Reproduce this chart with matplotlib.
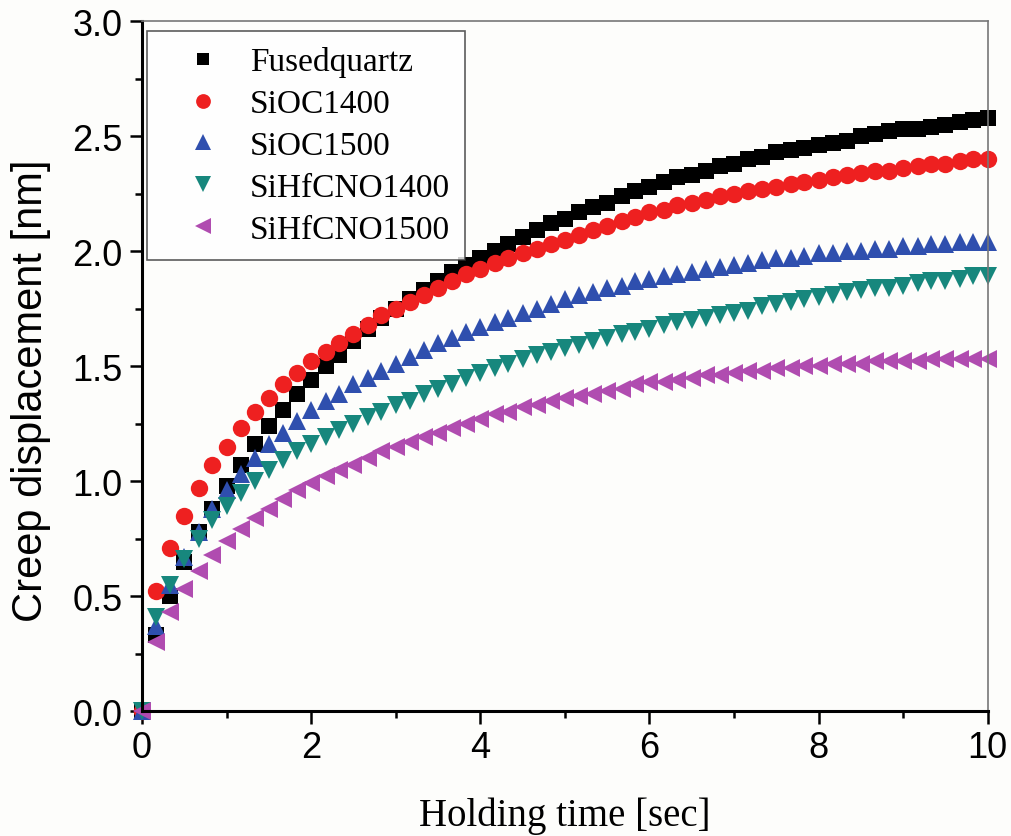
import matplotlib
matplotlib.use("Agg")
import matplotlib.pyplot as plt
from matplotlib.ticker import MultipleLocator

time_s = [0.00, 0.17, 0.33, 0.50, 0.67, 0.83, 1.00, 1.17, 1.33, 1.50, 1.67, 1.83,
          2.00, 2.17, 2.33, 2.50, 2.67, 2.83, 3.00, 3.17, 3.33, 3.50, 3.67, 3.83,
          4.00, 4.17, 4.33, 4.50, 4.67, 4.83, 5.00, 5.17, 5.33, 5.50, 5.67, 5.83,
          6.00, 6.17, 6.33, 6.50, 6.67, 6.83, 7.00, 7.17, 7.33, 7.50, 7.67, 7.83,
          8.00, 8.17, 8.33, 8.50, 8.67, 8.83, 9.00, 9.17, 9.33, 9.50, 9.67, 9.83,
          10.00]

fusedquartz = [0, 0.33, 0.50, 0.65, 0.78, 0.88, 0.98, 1.07, 1.16, 1.24, 1.31, 1.38,
               1.44, 1.50, 1.55, 1.61, 1.66, 1.71, 1.75, 1.79, 1.83, 1.87, 1.91, 1.94,
               1.97, 2.00, 2.03, 2.06, 2.09, 2.12, 2.14, 2.17, 2.19, 2.21, 2.24, 2.26,
               2.28, 2.30, 2.32, 2.33, 2.35, 2.37, 2.38, 2.40, 2.41, 2.43, 2.44, 2.45,
               2.46, 2.47, 2.48, 2.50, 2.51, 2.52, 2.53, 2.53, 2.54, 2.55, 2.56, 2.57,
               2.58]

sioc1400 = [0, 0.52, 0.71, 0.85, 0.97, 1.07, 1.15, 1.23, 1.30, 1.36, 1.42, 1.47,
            1.52, 1.56, 1.60, 1.64, 1.68, 1.72, 1.75, 1.78, 1.81, 1.84, 1.87, 1.90,
            1.92, 1.95, 1.97, 1.99, 2.01, 2.03, 2.05, 2.07, 2.09, 2.11, 2.13, 2.15,
            2.17, 2.18, 2.20, 2.21, 2.22, 2.24, 2.25, 2.26, 2.27, 2.28, 2.29, 2.30,
            2.31, 2.32, 2.33, 2.34, 2.35, 2.35, 2.36, 2.37, 2.38, 2.38, 2.39, 2.40,
            2.40]

sioc1500 = [0, 0.37, 0.55, 0.67, 0.78, 0.88, 0.96, 1.03, 1.10, 1.16, 1.21, 1.26,
            1.31, 1.35, 1.38, 1.42, 1.45, 1.48, 1.51, 1.54, 1.57, 1.60, 1.62, 1.65,
            1.67, 1.69, 1.71, 1.73, 1.75, 1.77, 1.79, 1.81, 1.82, 1.84, 1.85, 1.87,
            1.88, 1.89, 1.90, 1.91, 1.92, 1.93, 1.94, 1.95, 1.96, 1.97, 1.97, 1.98,
            1.99, 1.99, 2.00, 2.00, 2.01, 2.01, 2.02, 2.02, 2.03, 2.03, 2.04, 2.04,
            2.04]

sihfcno1400 = [0, 0.41, 0.55, 0.66, 0.75, 0.83, 0.89, 0.95, 1.00, 1.05, 1.09, 1.13,
               1.16, 1.19, 1.22, 1.25, 1.28, 1.30, 1.33, 1.35, 1.38, 1.40, 1.42, 1.45,
               1.47, 1.49, 1.51, 1.53, 1.55, 1.56, 1.58, 1.59, 1.61, 1.62, 1.64, 1.65,
               1.66, 1.68, 1.69, 1.70, 1.71, 1.72, 1.73, 1.74, 1.76, 1.77, 1.78, 1.79,
               1.80, 1.81, 1.82, 1.83, 1.84, 1.84, 1.85, 1.86, 1.87, 1.87, 1.88, 1.89,
               1.89]

sihfcno1500 = [0, 0.30, 0.43, 0.53, 0.61, 0.68, 0.74, 0.79, 0.84, 0.88, 0.92, 0.96,
               0.99, 1.02, 1.05, 1.07, 1.10, 1.13, 1.15, 1.17, 1.19, 1.21, 1.23, 1.25,
               1.27, 1.29, 1.30, 1.32, 1.33, 1.35, 1.36, 1.37, 1.38, 1.39, 1.40, 1.42,
               1.43, 1.43, 1.44, 1.45, 1.46, 1.46, 1.47, 1.48, 1.48, 1.49, 1.49, 1.50,
               1.50, 1.51, 1.51, 1.51, 1.52, 1.52, 1.52, 1.52, 1.53, 1.53, 1.53, 1.53,
               1.53]

labels = ["Fusedquartz", "SiOC1400", "SiOC1500", "SiHfCNO1400", "SiHfCNO1500"]
series = [fusedquartz, sioc1400, sioc1500, sihfcno1400, sihfcno1500]
markers = ["s", "o", "^", "v", "<"]
colors = ["#000000", "#ee2020", "#2f4fae", "#17877d", "#b04cb0"]
sizes = [11, 12.5, 13, 13, 13]

fig = plt.figure(figsize=(10.11, 8.37), dpi=100, facecolor="#fdfdfb")
ax = fig.add_axes([0.1405, 0.1493, 0.977 - 0.1405, 0.9737 - 0.1493])
ax.set_facecolor("#fdfdfb")

for y, lab, m, c, s in zip(series, labels, markers, colors, sizes):
    ax.plot(time_s, y, linestyle="none", marker=m, color=c, markersize=s,
            markeredgewidth=0, label=lab, clip_on=False)

ax.set_xlim(0, 10)
ax.set_ylim(0, 3.0)
ax.xaxis.set_minor_locator(MultipleLocator(1))
ax.yaxis.set_minor_locator(MultipleLocator(0.25))
ax.set_yticks([0, 0.5, 1.0, 1.5, 2.0, 2.5, 3.0])
ax.set_yticklabels(["0.0", "0.5", "1.0", "1.5", "2.0", "2.5", "3.0"])
ax.set_xticks([0, 2, 4, 6, 8, 10])
ax.set_xticklabels(["0", "2", "4", "6", "8", "10"])

ax.tick_params(which="major", direction="out", length=9, width=1.8, labelsize=26,
               top=False, right=False, pad=5)
ax.tick_params(which="minor", direction="out", length=5, width=1.8, top=False, right=False)
for lab in ax.get_xticklabels() + ax.get_yticklabels():
    lab.set_family("Liberation Sans")

ax.spines["left"].set_linewidth(2.2)
ax.spines["bottom"].set_linewidth(2.2)
ax.spines["top"].set_linewidth(1.2)
ax.spines["right"].set_linewidth(1.2)
ax.spines["top"].set_color("#777777")
ax.spines["right"].set_color("#777777")

ax.set_xlabel("Holding time [sec]", family="Liberation Serif", fontsize=28, labelpad=22)
ax.set_ylabel("Creep displacement [nm]", family="Liberation Sans", fontsize=30)
ax.yaxis.set_label_coords(-0.108, 0.465)

leg = ax.legend(loc="upper left", bbox_to_anchor=(0.006, 0.985), frameon=True,
                fancybox=False, edgecolor="#333333", facecolor="white",
                prop={"family": "Liberation Serif", "size": 24},
                handletextpad=0.18, borderpad=0.45, labelspacing=0.34,
                markerscale=0.85, handlelength=2.46, borderaxespad=0.0)
leg.get_frame().set_linewidth(1.2)

fig.savefig("out.png", dpi=100, facecolor=fig.get_facecolor())
